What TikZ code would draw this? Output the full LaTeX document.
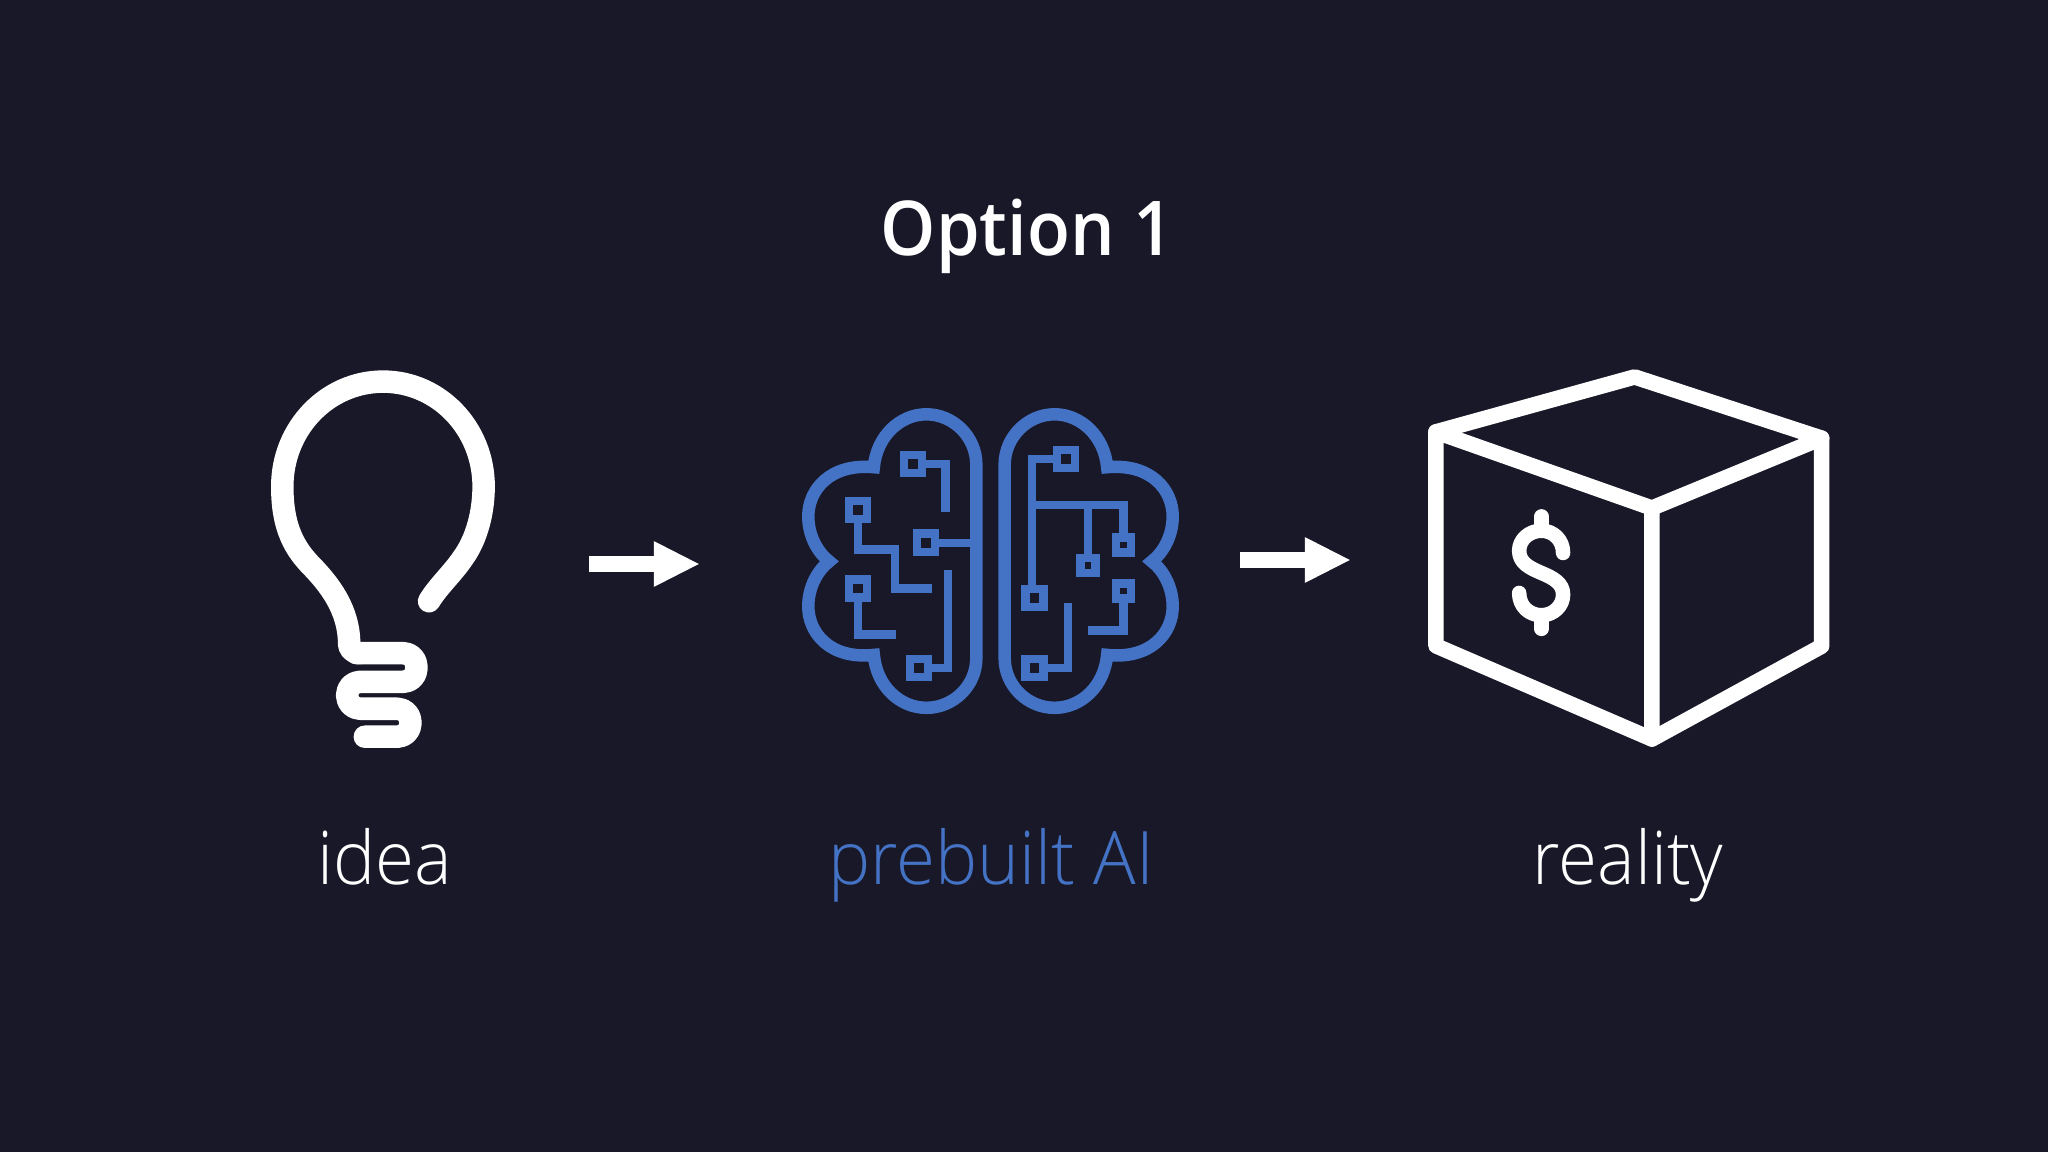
\documentclass[tikz,border=0pt]{standalone}
\usepackage{fontspec}
\setmainfont{Open Sans Light}[FakeStretch=0.96]
\IfFontExistsTF{Open Sans Semibold}{\newfontfamily\titlefont{Open Sans Semibold}[FakeStretch=0.93]}{\newfontfamily\titlefont{Open Sans}[FakeBold=1.2,FakeStretch=0.93]}
\usetikzlibrary{arrows.meta,calc}
\definecolor{bgdark}{HTML}{181828}
\definecolor{aiblue}{HTML}{4472C4}
\tikzset{
  icon/.style={x=0.0033333cm,y=-0.0033333cm},
  bulbline/.style={draw=white,line width=.225cm,line cap=round,line join=round},
  boxline/.style={draw=white,line width=.155cm,line join=round,line cap=round},
  lobe/.style={draw=aiblue,line width=.125cm,miter limit=10},
  wire/.style={draw=aiblue,line width=.085cm},
  pad/.style={rectangle,draw=aiblue,fill=bgdark,line width=.085cm,inner sep=0pt,outer sep=0pt,minimum size=.18cm},
  smallpad/.style={pad,minimum size=.15cm},
  step arrow/.style={draw=white,line width=.155cm,-{Triangle[length=.46cm,width=.42cm]}},
  caption/.style={font=\fontsize{21pt}{25pt}\selectfont,text=white,anchor=base},
}
\begin{document}
\begin{tikzpicture}[x=0.01cm,y=-0.01cm]
  \fill[bgdark] (0,0) rectangle (2048,1152);
  \useasboundingbox (0,0) rectangle (2048,1152);

  \node[font=\titlefont\fontsize{21.5pt}{26pt}\selectfont,text=white,anchor=base] (title) at (1027,256) {Option 1};
  \node[caption] (idea) at (385,884) {idea};
  \node[caption,text=aiblue] (prebuilt) at (991,884) {prebuilt AI};
  \node[caption] (reality) at (1628,884) {reality};

  % bulb
  \begin{scope}[shift={(250,350)},icon]
    \draw[bulbline] (538,755) .. controls (565,710) and (610,670) .. (640,625)
      .. controls (680,570) and (702,490) .. (702,410)
      .. controls (702,236) and (567,95) .. (400,95)
      .. controls (232,95) and (97,236) .. (97,410)
      .. controls (97,520) and (125,585) .. (178,642)
      .. controls (240,705) and (298,780) .. (298,885)
      .. controls (298,900) and (315,911) .. (330,911);
    \draw[bulbline,rounded corners=.13cm] (320,911) -- (500,911) -- (500,997) -- (292,997)
      -- (292,1078) -- (482,1078) -- (482,1162) -- (345,1162);
  \end{scope}

  % brain
  \begin{scope}[shift={(780,390)},icon]
    \draw[lobe] (590,225) .. controls (590,140) and (520,73) .. (440,73)
      .. controls (360,73) and (290,140) .. (282,232)
      .. controls (150,220) and (85,300) .. (85,380)
      .. controls (85,440) and (115,490) .. (148,515)
      .. controls (115,540) and (85,590) .. (85,650)
      .. controls (85,730) and (150,810) .. (282,796)
      .. controls (290,890) and (360,955) .. (440,955)
      .. controls (520,955) and (590,890) .. (590,805) -- cycle;
    \draw[lobe] (675,225) .. controls (675,140) and (745,73) .. (825,73)
      .. controls (905,73) and (975,140) .. (983,232)
      .. controls (1115,220) and (1180,300) .. (1180,380)
      .. controls (1180,440) and (1150,490) .. (1117,515)
      .. controls (1150,540) and (1180,590) .. (1180,650)
      .. controls (1180,730) and (1115,810) .. (983,796)
      .. controls (975,890) and (905,955) .. (825,955)
      .. controls (745,955) and (675,890) .. (675,805) -- cycle;

    \node[pad] (a) at (400,222) {};
    \node[pad] (b) at (235,360) {};
    \node[pad] (c) at (438,459) {};
    \node[pad] (d) at (235,597) {};
    \node[pad] (e) at (418,835) {};
    \node[pad] (f) at (860,208) {};
    \node[smallpad] (g) at (1032,466) {};
    \node[smallpad] (h) at (925,527) {};
    \node[pad] (i) at (765,625) {};
    \node[smallpad] (j) at (1032,604) {};
    \node[pad] (k) at (765,835) {};

    \coordinate (aend) at (497,367);
    \coordinate (bmid) at (345,480);
    \coordinate (bend) at (458,597);
    \coordinate (cend) at (575,459);
    \coordinate (dend) at (348,735);
    \coordinate (eend) at (505,542);
    \coordinate (ftop) at (757,208);
    \coordinate (fbus) at (757,345);
    \coordinate (hbus) at (925,345);
    \coordinate (jend) at (925,723);
    \coordinate (kend) at (866,640);

    \draw[wire] (a.east) -| (aend);
    \draw[wire] (b.south) |- (bmid) |- (bend);
    \draw[wire] (c.east) -- (cend);
    \draw[wire] (d.south) |- (dend);
    \draw[wire] (e.east) -| (eend);
    \draw[wire] (f.west) -- (ftop) -- (ftop |- i.north);
    \draw[wire] (fbus) -| (g.north);
    \draw[wire] (hbus) -- (h.north);
    \draw[wire] (j.south) |- (jend);
    \draw[wire] (k.east) -| (kend);
  \end{scope}

  % box
  \begin{scope}[shift={(1410,350)},icon]
    \coordinate (apex) at (675,81);
    \coordinate (ltop) at (78,246);
    \coordinate (rtop) at (1237,265);
    \coordinate (mid) at (727,475);
    \coordinate (rbot) at (1237,890);
    \coordinate (bot) at (727,1169);
    \coordinate (lbot) at (78,889);
    \draw[boxline] (apex) -- (rtop) -- (rbot) -- (bot) -- (lbot) -- (ltop) -- cycle;
    \draw[boxline] (ltop) -- (mid) -- (rtop) (mid) -- (bot);
    \draw[boxline,line width=.145cm] (460,610) .. controls (460,570) and (430,543) .. (395,543)
      .. controls (358,543) and (328,570) .. (328,603)
      .. controls (328,640) and (360,655) .. (395,670)
      .. controls (430,685) and (460,700) .. (460,735)
      .. controls (460,770) and (430,797) .. (395,797)
      .. controls (358,797) and (328,770) .. (328,730);
    \draw[boxline,line width=.145cm] (395,500) -- (395,543) (395,797) -- (395,838);
  \end{scope}

  % arrows
  \coordinate (a1s) at (589,564);
  \coordinate (a1e) at (700,564);
  \coordinate (a2s) at (1240,560);
  \coordinate (a2e) at (1351,560);
  \draw[step arrow] (a1s) -- (a1e);
  \draw[step arrow] (a2s) -- (a2e);
\end{tikzpicture}
\end{document}
